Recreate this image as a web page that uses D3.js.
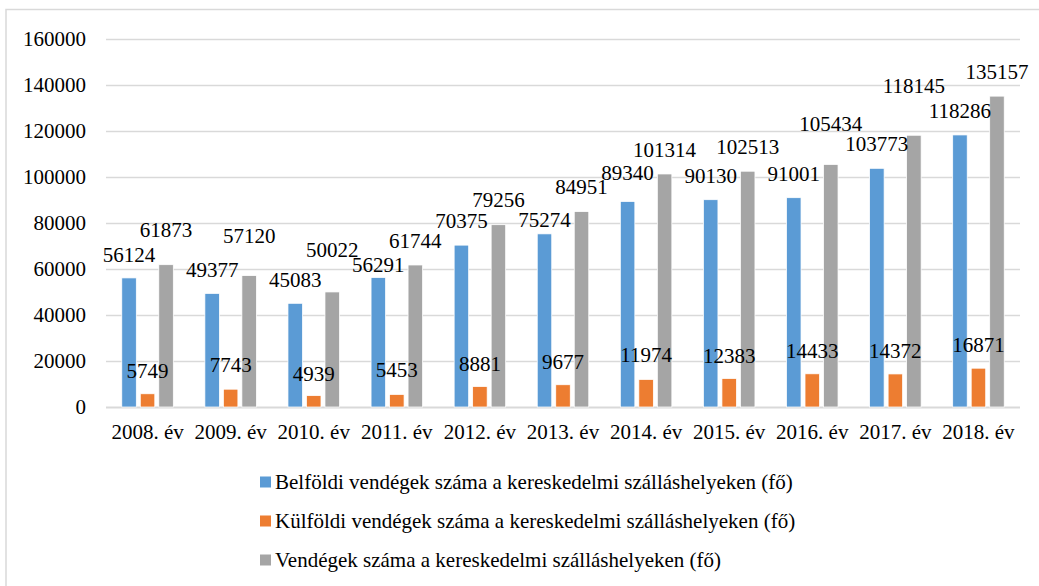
<!DOCTYPE html>
<html>
<head>
    <meta charset="utf-8">
    <title></title>
    <script src="https://cdn.jsdelivr.net/npm/d3@7/dist/d3.min.js" charset="utf-8"></script>
    <style>
        body { margin: 0; background: #ffffff; }
        text {
            font-family: "Liberation Serif", "Times New Roman", serif;
            font-size: 21px;
            fill: #000000;
        }
    </style>
</head>
<body>

<script type="text/javascript">

    var years = ["2008. év", "2009. év", "2010. év", "2011. év", "2012. év", "2013. év",
                 "2014. év", "2015. év", "2016. év", "2017. év", "2018. év"];
    var domestic = [56124, 49377, 45083, 56291, 70375, 75274, 89340, 90130, 91001, 103773, 118286];
    var foreign = [5749, 7743, 4939, 5453, 8881, 9677, 11974, 12383, 14433, 14372, 16871];
    var total = [61873, 57120, 50022, 61744, 79256, 84951, 101314, 102513, 105434, 118145, 135157];
    var seriesNames = ["Belföldi vendégek száma a kereskedelmi szálláshelyeken (fő)",
                       "Külföldi vendégek száma a kereskedelmi szálláshelyeken (fő)",
                       "Vendégek száma a kereskedelmi szálláshelyeken (fő)"];
    var yTicks = [0, 20000, 40000, 60000, 80000, 100000, 120000, 140000, 160000];

    // how far (px) each data label sits above its bar, some were dragged by hand in the original
    var liftDomestic = [16, 16, 16, 6, 17, 7, 22, 17, 17, 17, 17];
    var liftForeign = [16, 17, 15, 17, 16, 16, 17, 16, 16, 16, 16];
    var liftTotal = [28, 33, 35, 17, 18, 18, 17, 17, 34, 42, 17];

    var colors = ["#5B9BD5", "#ED7D31", "#A5A5A5"],
        w = 1039,
        h = 586,
        plotLeft = 106,
        plotRight = 1020,
        plotTop = 39,
        plotBottom = 407;

    var seriesValues = [domestic, foreign, total];
    var seriesLift = [liftDomestic, liftForeign, liftTotal];

    var svg = d3.select("body")
            .append("svg")
            .attr("width", w)
            .attr("height", h);

    // chart frame (only left and top edges are visible in the picture)
    svg.append("rect")
            .attr("x", 6)
            .attr("y", 9.5)
            .attr("width", 1100)
            .attr("height", 700)
            .attr("fill", "none")
            .attr("stroke", "#D9D9D9")
            .attr("stroke-width", 1.5);

    var y = d3.scaleLinear()
            .domain([0, 160000])
            .range([plotBottom, plotTop]);

    var x0 = d3.scaleBand()
            .domain(years)
            .range([plotLeft, plotRight])
            .paddingInner(0.38)
            .paddingOuter(0.19);

    var x1 = d3.scaleBand()
            .domain([0, 1, 2])
            .range([0, x0.bandwidth()])
            .paddingInner(0.216);

    // gridlines
    svg.append("g")
            .selectAll("line")
            .data(yTicks)
            .enter()
            .append("line")
            .attr("x1", plotLeft)
            .attr("x2", plotRight)
            .attr("y1", function (d) { return Math.round(y(d)) + 0.5; })
            .attr("y2", function (d) { return Math.round(y(d)) + 0.5; })
            .attr("stroke", "#D9D9D9")
            .attr("stroke-width", function (d) { return d === 0 ? 2 : 1.5; });

    // y axis labels
    var yAxis = d3.axisLeft(y)
            .tickValues(yTicks)
            .tickSize(0)
            .tickPadding(0)
            .tickFormat(d3.format("d"));

    svg.append("g")
            .attr("transform", "translate(86,0)")
            .call(yAxis)
            .call(function (g) { g.select(".domain").remove(); })
            .selectAll("text")
            .attr("font-family", null)
            .attr("font-size", null)
            .attr("dy", "0.32em");

    // x axis labels
    var xAxis = d3.axisBottom(x0)
            .tickSize(0)
            .tickPadding(0);

    svg.append("g")
            .attr("transform", "translate(0," + 424 + ")")
            .call(xAxis)
            .call(function (g) { g.select(".domain").remove(); })
            .selectAll("text")
            .attr("font-family", null)
            .attr("font-size", null)
            .attr("dy", "0.71em");

    // bars
    var groups = svg.selectAll("g.year")
            .data(years)
            .enter()
            .append("g")
            .attr("class", "year")
            .attr("transform", function (d) { return "translate(" + x0(d) + ",0)"; });

    function cells(d, i) {
        return seriesValues.map(function (s, k) { return {k: k, v: s[i], lift: seriesLift[k][i]}; });
    }

    groups.selectAll("rect")
            .data(cells)
            .enter()
            .append("rect")
            .attr("x", function (d) { return x1(d.k); })
            .attr("y", function (d) { return y(d.v); })
            .attr("width", x1.bandwidth())
            .attr("height", function (d) { return plotBottom - y(d.v); })
            .attr("fill", function (d) { return colors[d.k]; })
            .attr("stroke", "#ffffff")
            .attr("stroke-width", 0.75);

    // value labels
    groups.selectAll("text.val")
            .data(cells)
            .enter()
            .append("text")
            .attr("class", "val")
            .attr("x", function (d) { return x1(d.k) + x1.bandwidth() / 2; })
            .attr("y", function (d) { return y(d.v) - d.lift; })
            .attr("text-anchor", "middle")
            .text(function (d) { return d.v; });

    // legend
    var legend = svg.selectAll("g.legend")
            .data(seriesNames)
            .enter()
            .append("g")
            .attr("class", "legend")
            .attr("transform", function (d, i) { return "translate(260," + (482 + i * 39) + ")"; });

    legend.append("rect")
            .attr("x", 0)
            .attr("y", -5.5)
            .attr("width", 11)
            .attr("height", 11)
            .attr("fill", function (d, i) { return colors[i]; });

    legend.append("text")
            .attr("x", 15)
            .attr("y", 7)
            .text(function (d) { return d; });
</script>
</body>
</html>
